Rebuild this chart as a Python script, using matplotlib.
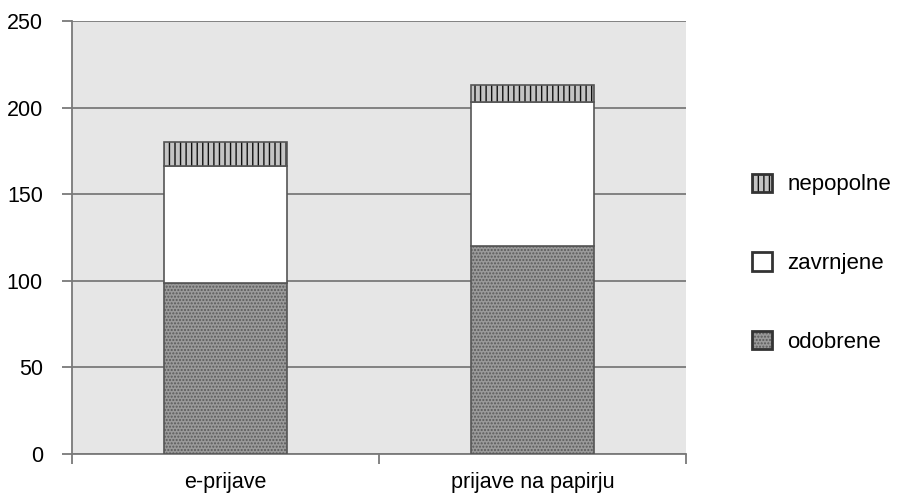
import matplotlib.pyplot as plt
from matplotlib.patches import Patch
from matplotlib.colors import to_rgba
import numpy as np

plt.rcParams['font.family'] = ['Liberation Sans', 'DejaVu Sans']
plt.rcParams['hatch.linewidth'] = 1.0

categories = ['e-prijave', 'prijave na papirju']
odobrene = [99, 120]
zavrnjene = [67, 83]
nepopolne = [14, 10]

series_names = ['odobrene', 'zavrnjene', 'nepopolne']
series_values = [odobrene, zavrnjene, nepopolne]
faces = ['#9a9a9a', 'white', '#c4c4c4']
hatches = ['.....', None, '|||']
hatch_colors = ['#5a5a5a', None, '#111111']

fig = plt.figure(figsize=(9.04, 4.95), dpi=100)
fig.patch.set_facecolor('white')
ax = fig.add_axes([72/904, 1-454/495, (686-72)/904, (454-21)/495])
ax.set_facecolor('#e6e6e6')

x = np.arange(len(categories))
bottom = np.zeros(len(categories))
handles = []
for name, vals, fc, h, hc in zip(series_names, series_values, faces, hatches, hatch_colors):
    bars = ax.bar(x, vals, 0.4, bottom=bottom, color=fc, edgecolor='#555555',
                  linewidth=1.2, zorder=3)
    if h:
        for b in bars:
            b.set_hatch(h)
            b._hatch_color = to_rgba(hc)
    bottom += np.array(vals)
    p = Patch(facecolor=fc, edgecolor='#333333', linewidth=2.0, hatch=h)
    if h:
        p._hatch_color = to_rgba(hc)
    handles.append(p)

ax.set_xlim(-0.5, 1.5)
ax.set_ylim(0, 250)
ax.set_yticks(np.arange(0, 251, 50))
ax.yaxis.grid(True, color='#7a7a7a', linewidth=1.3, zorder=1)
ax.set_axisbelow(True)

ax.set_xticks([-0.5, 0.5, 1.5])
ax.set_xticklabels([])
ax.set_xticks(x, minor=True)
ax.set_xticklabels(categories, minor=True)
ax.tick_params(axis='x', which='major', length=7, width=1.3, color='#7a7a7a')
ax.tick_params(axis='x', which='minor', length=0, pad=13, labelsize=15.5)
ax.tick_params(axis='y', length=7, width=1.3, color='#7a7a7a', pad=14, labelsize=15.5)

for s in ['top', 'right']:
    ax.spines[s].set_visible(False)
for s in ['left', 'bottom']:
    ax.spines[s].set_color('#7a7a7a')
    ax.spines[s].set_linewidth(1.3)

fig.legend(handles[::-1], series_names[::-1], loc='center left',
           bbox_to_anchor=(732/904, 1-263/495), frameon=False, fontsize=16,
           handlelength=0.9, handleheight=0.9, handletextpad=0.7,
           labelspacing=2.55)

fig.savefig('out.png', dpi=100, facecolor='white')
